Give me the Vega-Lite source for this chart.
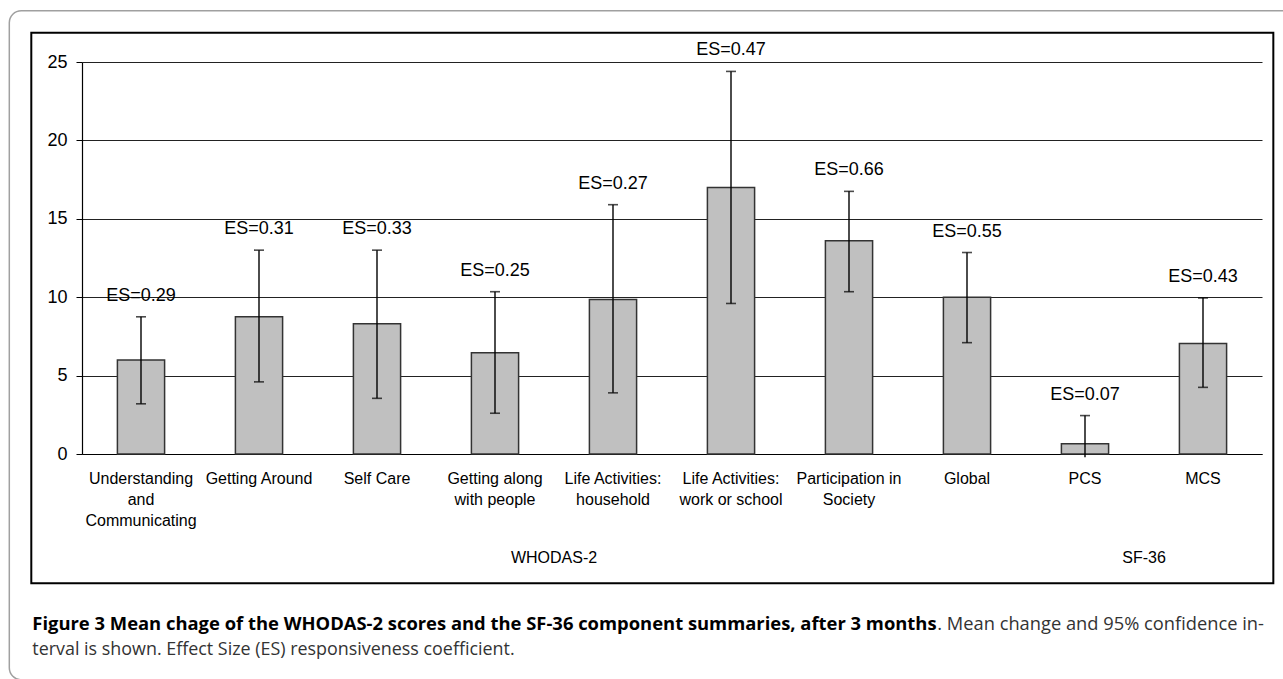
{
  "$schema": "https://vega.github.io/schema/vega-lite/v6.json",
  "width": 1180,
  "height": 392,
  "autosize": {"type": "none"},
  "padding": {"left": 82, "top": 62, "right": 21, "bottom": 225},
  "background": "white",
  "config": {"view": {"stroke": null}, "font": "Liberation Sans"},
  "datasets": {
    "bars": [
      {"label": "Understanding|and|Communicating", "mean": 6.0, "lo": 3.2, "hi": 8.75, "es": "ES=0.29"},
      {"label": "Getting Around", "mean": 8.75, "lo": 4.6, "hi": 13.0, "es": "ES=0.31"},
      {"label": "Self Care", "mean": 8.3, "lo": 3.55, "hi": 13.0, "es": "ES=0.33"},
      {"label": "Getting along|with people", "mean": 6.45, "lo": 2.6, "hi": 10.35, "es": "ES=0.25"},
      {"label": "Life Activities:|household", "mean": 9.85, "lo": 3.9, "hi": 15.9, "es": "ES=0.27"},
      {"label": "Life Activities:|work or school", "mean": 17.0, "lo": 9.6, "hi": 24.4, "es": "ES=0.47"},
      {"label": "Participation in|Society", "mean": 13.6, "lo": 10.35, "hi": 16.75, "es": "ES=0.66"},
      {"label": "Global", "mean": 10.0, "lo": 7.1, "hi": 12.85, "es": "ES=0.55"},
      {"label": "PCS", "mean": 0.65, "lo": -0.2, "hi": 2.45, "es": "ES=0.07"},
      {"label": "MCS", "mean": 7.05, "lo": 4.25, "hi": 9.95, "es": "ES=0.43"}
    ],
    "groups": [
      {"group": "WHODAS-2", "pos": 4},
      {"group": "SF-36", "pos": 9}
    ],
    "caption": [
      {"part": "bold", "text": "Figure 3 Mean chage of the WHODAS-2 scores and the SF-36 component summaries, after 3 months"},
      {"part": "rest1", "text": ". Mean change and 95% confidence in-"},
      {"part": "rest2", "text": "terval is shown. Effect Size (ES) responsiveness coefficient."}
    ]
  },
  "layer": [
    {
      "data": {"name": "bars"},
      "layer": [
        {
          "mark": {"type": "bar", "fill": "#c0c0c0", "stroke": "#333333", "strokeWidth": 1.5},
          "encoding": {
            "x": {
              "field": "label", "type": "nominal", "sort": null,
              "scale": {"paddingInner": 0.6, "paddingOuter": 0.3},
              "axis": {
                "title": null,
                "labelExpr": "split(datum.value, '|')",
                "labelAngle": 0,
                "labelFont": "Liberation Sans",
                "labelFontSize": 16,
                "labelColor": "black",
                "labelLineHeight": 21,
                "labelBaseline": "top",
                "labelPadding": 16,
                "labelLimit": 0,
                "ticks": false,
                "tickSize": 0,
                "domainColor": "black",
                "domainWidth": 1.2,
                "grid": false
              }
            },
            "y": {
              "field": "mean", "type": "quantitative",
              "scale": {"domain": [0, 25], "nice": false, "zero": false},
              "axis": {
                "title": null,
                "values": [0, 5, 10, 15, 20, 25],
                "labelFont": "Liberation Sans",
                "labelFontSize": 18,
                "labelColor": "black",
                "labelPadding": 9,
                "tickSize": 6,
                "tickColor": "black",
                "domainColor": "black",
                "domainWidth": 1.2,
                "grid": true,
                "gridColor": "#222222",
                "gridWidth": 1
              }
            }
          }
        },
        {
          "mark": {"type": "rule", "color": "black", "strokeWidth": 1.4},
          "encoding": {
            "x": {"field": "label", "type": "nominal", "sort": null},
            "y": {"field": "lo", "type": "quantitative"},
            "y2": {"field": "hi"}
          }
        },
        {
          "mark": {"type": "tick", "orient": "horizontal", "size": 10, "thickness": 1.6, "color": "black"},
          "encoding": {
            "x": {"field": "label", "type": "nominal", "sort": null},
            "y": {"field": "hi", "type": "quantitative"}
          }
        },
        {
          "transform": [{"filter": "datum.lo >= 0"}],
          "mark": {"type": "tick", "orient": "horizontal", "size": 10, "thickness": 1.6, "color": "black"},
          "encoding": {
            "x": {"field": "label", "type": "nominal", "sort": null},
            "y": {"field": "lo", "type": "quantitative"}
          }
        },
        {
          "mark": {"type": "text", "font": "Liberation Sans", "fontSize": 18, "color": "black", "baseline": "middle", "dy": -21},
          "encoding": {
            "x": {"field": "label", "type": "nominal", "sort": null},
            "y": {"field": "hi", "type": "quantitative"},
            "text": {"field": "es"}
          }
        }
      ]
    },
    {
      "layer": [
        {
          "data": {"values": [{"frame": "outer"}]},
          "mark": {"type": "rect", "fill": null, "stroke": "#a0a0a0", "strokeWidth": 1.5, "cornerRadius": 12},
          "encoding": {
            "x": {"datum": -0.616, "type": "quantitative", "scale": {"domain": [0, 10], "nice": false, "zero": false}, "axis": null},
            "x2": {"datum": 10.35},
            "y": {"datum": 28.27, "type": "quantitative", "scale": {"domain": [0, 25], "nice": false, "zero": false}, "axis": null},
            "y2": {"datum": -14.4}
          }
        },
        {
          "data": {"values": [{"frame": "inner"}]},
          "mark": {"type": "rect", "fill": null, "stroke": "black", "strokeWidth": 2},
          "encoding": {
            "x": {"datum": -0.4297, "type": "quantitative", "scale": {"domain": [0, 10], "nice": false, "zero": false}, "axis": null},
            "x2": {"datum": 10.096},
            "y": {"datum": 26.87, "type": "quantitative", "scale": {"domain": [0, 25], "nice": false, "zero": false}, "axis": null},
            "y2": {"datum": -8.25}
          }
        },
        {
          "data": {"name": "groups"},
          "mark": {"type": "text", "font": "Liberation Sans", "fontSize": 16, "color": "black", "baseline": "middle", "align": "center"},
          "encoding": {
            "x": {"field": "pos", "type": "quantitative", "scale": {"domain": [0, 10], "nice": false, "zero": false}, "axis": null},
            "y": {"datum": -6.61, "type": "quantitative", "scale": {"domain": [0, 25], "nice": false, "zero": false}, "axis": null},
            "text": {"field": "group"}
          }
        },
        {
          "data": {"name": "caption"},
          "transform": [{"filter": "datum.part === 'bold'"}],
          "mark": {"type": "text", "font": "Open Sans", "fontSize": 18.4, "fontWeight": "bold", "color": "black", "align": "left", "baseline": "alphabetic"},
          "encoding": {
            "x": {"datum": -0.421, "type": "quantitative", "scale": {"domain": [0, 10], "nice": false, "zero": false}, "axis": null},
            "y": {"datum": -11.21, "type": "quantitative", "scale": {"domain": [0, 25], "nice": false, "zero": false}, "axis": null},
            "text": {"field": "text"}
          }
        },
        {
          "data": {"name": "caption"},
          "transform": [{"filter": "datum.part === 'rest1'"}],
          "mark": {"type": "text", "font": "Open Sans", "fontSize": 18.3, "color": "#333333", "align": "left", "baseline": "alphabetic"},
          "encoding": {
            "x": {"datum": 7.248, "type": "quantitative", "scale": {"domain": [0, 10], "nice": false, "zero": false}, "axis": null},
            "y": {"datum": -11.21, "type": "quantitative", "scale": {"domain": [0, 25], "nice": false, "zero": false}, "axis": null},
            "text": {"field": "text"}
          }
        },
        {
          "data": {"name": "caption"},
          "transform": [{"filter": "datum.part === 'rest2'"}],
          "mark": {"type": "text", "font": "Open Sans", "fontSize": 17.9, "color": "#333333", "align": "left", "baseline": "alphabetic"},
          "encoding": {
            "x": {"datum": -0.421, "type": "quantitative", "scale": {"domain": [0, 10], "nice": false, "zero": false}, "axis": null},
            "y": {"datum": -12.83, "type": "quantitative", "scale": {"domain": [0, 25], "nice": false, "zero": false}, "axis": null},
            "text": {"field": "text"}
          }
        }
      ]
    }
  ],
  "resolve": {"scale": {"x": "independent"}, "axis": {"y": "independent"}}
}
